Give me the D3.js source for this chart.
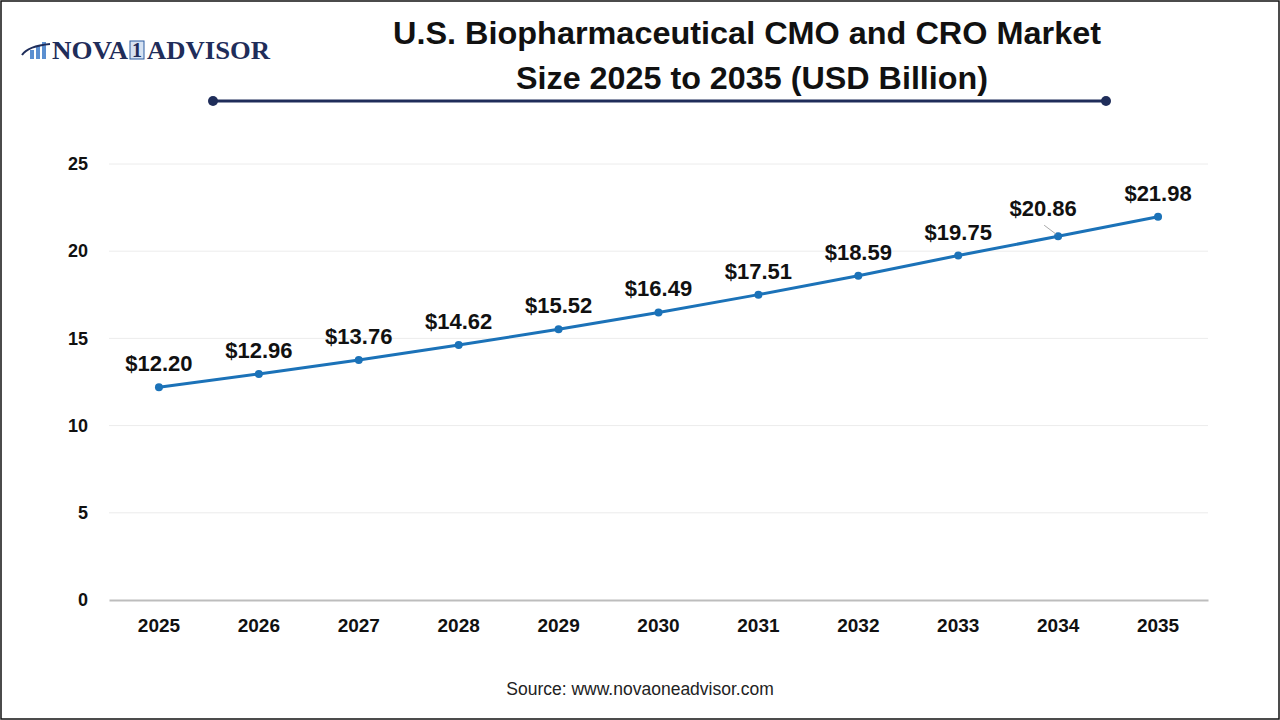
<!DOCTYPE html>
<html>
<head>
<meta charset="utf-8">
<script src="https://cdn.jsdelivr.net/npm/d3@7"></script>
<style>
  body { margin: 0; background: #fff; }
  svg { display: block; }
</style>
</head>
<body>
<svg id="chart" width="1280" height="720"></svg>
<script>
// Market size, USD billion
var years  = ["2025", "2026", "2027", "2028", "2029", "2030", "2031", "2032", "2033", "2034", "2035"];
var values = [12.20, 12.96, 13.76, 14.62, 15.52, 16.49, 17.51, 18.59, 19.75, 20.86, 21.98];
var yTicks = [0, 5, 10, 15, 20, 25];

var svg = d3.select("#chart");
var width = 1280, height = 720;
var margin = { top: 164, right: 72, bottom: 120, left: 109 };

var x = d3.scaleBand()
    .domain(years)
    .range([margin.left, width - margin.right]);

var y = d3.scaleLinear()
    .domain([0, 25])
    .range([height - margin.bottom, margin.top]);

// frame
svg.append("rect")
   .attr("x", 1).attr("y", 1)
   .attr("width", width - 2).attr("height", height - 2)
   .attr("fill", "#fff")
   .attr("stroke", "#111")
   .attr("stroke-width", 1.5);

// logo
var logo = svg.append("g");
[[30, 9], [36, 13], [42, 17]].forEach(function (b) {
  logo.append("rect")
      .attr("x", b[0]).attr("y", 59 - b[1])
      .attr("width", 4).attr("height", b[1])
      .attr("fill", "#5b8fd0");
});
logo.append("path")
    .attr("d", "M22,55 Q28,46 50,44")
    .attr("fill", "none")
    .attr("stroke", "#1f2d5a")
    .attr("stroke-width", 2);
logo.append("text")
    .attr("x", 52).attr("y", 59)
    .attr("textLength", 76).attr("lengthAdjust", "spacingAndGlyphs")
    .attr("font-family", "Liberation Serif, DejaVu Serif, serif")
    .attr("font-weight", "bold")
    .attr("font-size", 25)
    .attr("fill", "#1f2d5a")
    .text("NOVA");
logo.append("rect")
    .attr("x", 130).attr("y", 41)
    .attr("width", 14).attr("height", 18)
    .attr("fill", "#d6e2f2")
    .attr("stroke", "#2a5aa0")
    .attr("stroke-width", 1);
logo.append("text")
    .attr("x", 137).attr("y", 57)
    .attr("text-anchor", "middle")
    .attr("font-family", "Liberation Serif, DejaVu Serif, serif")
    .attr("font-weight", "bold")
    .attr("font-size", 20)
    .attr("fill", "#1f2d5a")
    .text("1");
logo.append("text")
    .attr("x", 147).attr("y", 59)
    .attr("textLength", 123).attr("lengthAdjust", "spacingAndGlyphs")
    .attr("font-family", "Liberation Serif, DejaVu Serif, serif")
    .attr("font-weight", "bold")
    .attr("font-size", 25)
    .attr("fill", "#1f2d5a")
    .text("ADVISOR");

// title
var title = svg.append("text")
    .attr("font-family", "Liberation Sans, Arial, sans-serif")
    .attr("font-weight", "bold")
    .attr("font-size", 32)
    .attr("fill", "#111");
title.append("tspan").attr("x", 393).attr("y", 44)
     .attr("textLength", 708).attr("lengthAdjust", "spacingAndGlyphs")
     .text("U.S. Biopharmaceutical CMO and CRO Market");
title.append("tspan").attr("x", 516).attr("y", 89)
     .attr("textLength", 472).attr("lengthAdjust", "spacingAndGlyphs")
     .text("Size 2025 to 2035 (USD Billion)");

// decorative rule under the title
svg.append("line")
   .attr("x1", 213).attr("x2", 1106)
   .attr("y1", 101).attr("y2", 101)
   .attr("stroke", "#1f2d5a")
   .attr("stroke-width", 3);
[213, 1106].forEach(function (cx) {
  svg.append("circle")
     .attr("cx", cx).attr("cy", 101).attr("r", 5)
     .attr("fill", "#1f2d5a");
});

// grid lines
svg.append("g")
   .selectAll("line")
   .data(yTicks.filter(function (d) { return d > 0; }))
   .join("line")
   .attr("x1", margin.left).attr("x2", width - margin.right)
   .attr("y1", function (d) { return y(d); })
   .attr("y2", function (d) { return y(d); })
   .attr("stroke", "#ececec")
   .attr("stroke-width", 1);

// y axis
var yAxis = svg.append("g")
   .attr("transform", "translate(" + margin.left + ",0)")
   .call(d3.axisLeft(y).tickValues(yTicks).tickSize(0).tickPadding(21));
yAxis.select(".domain").remove();
yAxis.selectAll("text")
     .attr("font-family", "Liberation Sans, Arial, sans-serif")
     .attr("font-weight", "bold")
     .attr("font-size", 18)
     .attr("fill", "#111");

// x axis
var xAxis = svg.append("g")
   .attr("transform", "translate(0," + y(0) + ")")
   .call(d3.axisBottom(x).tickSize(0).tickPadding(19));
xAxis.select(".domain")
     .attr("stroke", "#bdbdbd")
     .attr("stroke-width", 2);
xAxis.selectAll("text")
     .attr("font-family", "Liberation Sans, Arial, sans-serif")
     .attr("font-weight", "bold")
     .attr("font-size", 19)
     .attr("fill", "#111");

var cx = function (d, i) { return x(years[i]) + x.bandwidth() / 2; };

// line
var line = d3.line()
    .x(function (d, i) { return cx(d, i); })
    .y(function (d) { return y(d); });

svg.append("path")
   .datum(values)
   .attr("d", line)
   .attr("fill", "none")
   .attr("stroke", "#1b72b8")
   .attr("stroke-width", 3);

svg.append("g")
   .selectAll("circle")
   .data(values)
   .join("circle")
   .attr("cx", cx)
   .attr("cy", function (d) { return y(d); })
   .attr("r", 4)
   .attr("fill", "#1b72b8");

// labels (2034 is nudged up-left with a leader line)
var nudge = function (i) { return years[i] === "2034" ? { dx: -15, dy: -4 } : { dx: 0, dy: 0 }; };

svg.append("g")
   .selectAll("line")
   .data(values.filter(function (d, i) { return years[i] === "2034"; }))
   .join("line")
   .attr("x1", function (d) { return cx(d, years.indexOf("2034")) - 14; })
   .attr("y1", function (d) { return y(d) - 11; })
   .attr("x2", function (d) { return cx(d, years.indexOf("2034")) - 2; })
   .attr("y2", function (d) { return y(d) - 2; })
   .attr("stroke", "#aaa")
   .attr("stroke-width", 1);

svg.append("g")
   .selectAll("text")
   .data(values)
   .join("text")
   .attr("x", function (d, i) { return cx(d, i) + nudge(i).dx; })
   .attr("y", function (d, i) { return y(d) - 16 + nudge(i).dy; })
   .attr("text-anchor", "middle")
   .attr("font-family", "Liberation Sans, Arial, sans-serif")
   .attr("font-weight", "bold")
   .attr("font-size", 22)
   .attr("fill", "#111")
   .text(function (d) { return "$" + d.toFixed(2); });

// source
svg.append("text")
   .attr("x", 640).attr("y", 695)
   .attr("text-anchor", "middle")
   .attr("font-family", "Liberation Sans, Arial, sans-serif")
   .attr("font-size", 17.5)
   .attr("fill", "#222")
   .text("Source: www.novaoneadvisor.com");
</script>
</body>
</html>
